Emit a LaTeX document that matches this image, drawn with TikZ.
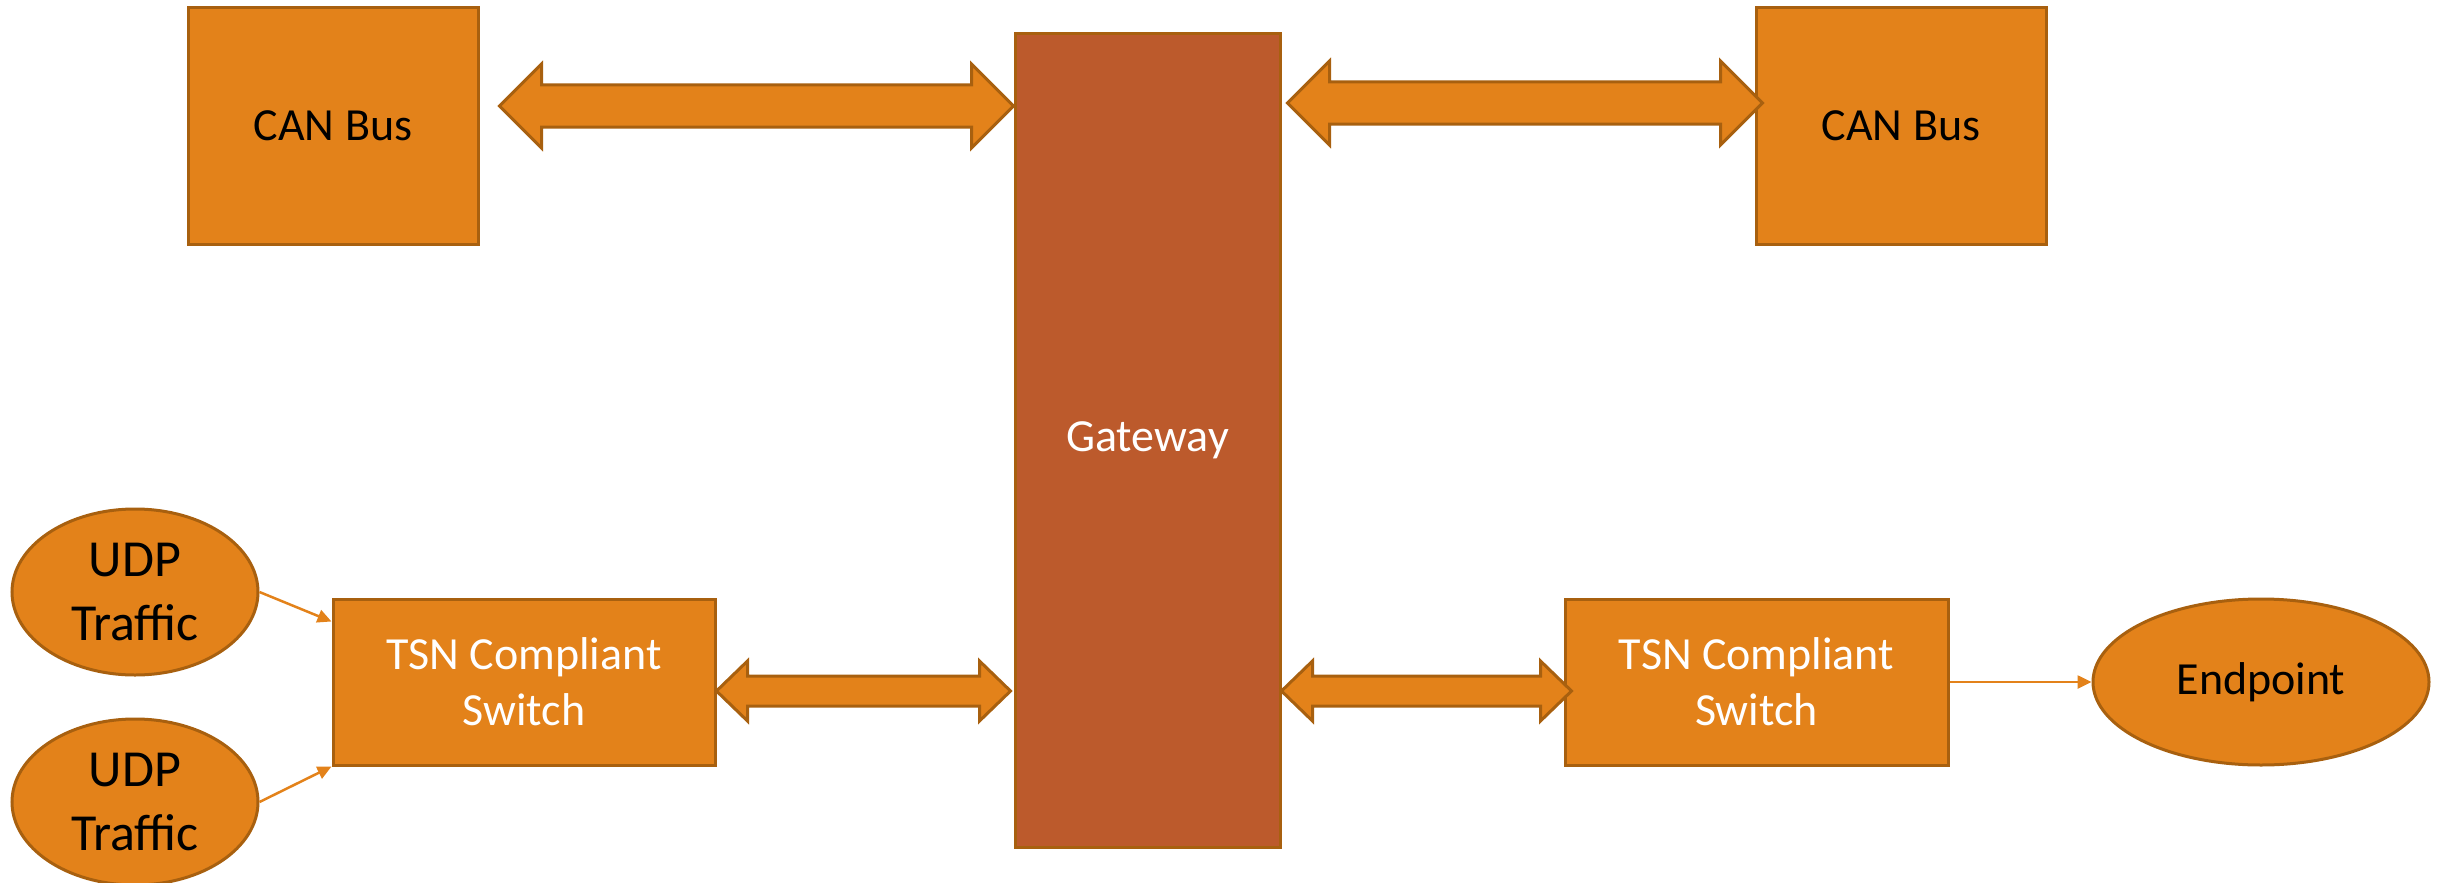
\documentclass[tikz,border=0pt]{standalone}
\usepackage{fontspec}
\setmainfont{Carlito}
\usepackage{tikz}
\usetikzlibrary{arrows.meta,positioning,calc,shapes.geometric}
\definecolor{borange}{HTML}{E3821A}
\definecolor{bedge}{HTML}{A8600F}
\definecolor{brust}{HTML}{BC5A2C}
\newcommand{\blkfont}{\fontsize{46}{56}\selectfont}
\newcommand{\udpfont}{\fontsize{52}{64}\selectfont}
% block arrow with two heads: from, to, shaft half width, head half width, head length
\newcommand{\fatarrow}[5]{%
  \draw[fatarr] let \p1=(#1), \p2=(#2) in
    (\x1,\y1) -- (\x1+#5,\y1+#4) -- (\x1+#5,\y1+#3) -- (\x2-#5,\y1+#3)
    -- (\x2-#5,\y1+#4) -- (\x2,\y1) -- (\x2-#5,\y1-#4) -- (\x2-#5,\y1-#3)
    -- (\x1+#5,\y1-#3) -- (\x1+#5,\y1-#4) -- cycle;}
\tikzset{
  blk/.style={rectangle, draw=bedge, line width=3pt, fill=#1, align=center,
              inner sep=0pt, font=\blkfont},
  blk/.default=borange,
  blob/.style={ellipse, draw=bedge, line width=3pt, fill=borange, align=center,
               inner sep=-20pt, minimum height=166pt},
  fatarr/.style={draw=bedge, line width=3pt, fill=borange, line join=miter},
  link/.style={-{Triangle[length=14pt,width=13pt]}, draw=borange, line width=2.5pt},
}
\begin{document}
\begin{tikzpicture}[x=1pt, y=-1pt]
  \useasboundingbox (0,0) rectangle (2442,883);
  % gateway in the middle, buses above, switches below
  \node[blk=brust, minimum width=265pt, minimum height=813pt, text=white] (gw) at (1147.5,440.5) {Gateway};
  \node[blk, minimum width=290pt, minimum height=236pt] (canL) at (333,126) {CAN Bus};
  \node[blk, minimum width=290pt, minimum height=236pt] (canR) at (1901,126) {CAN Bus};
  \node[blk, minimum width=382pt, minimum height=166pt, text=white] (tsnL) at (524,682) {TSN Compliant\\Switch};
  \node[blk, minimum width=383pt, minimum height=166pt, text=white] (tsnR) at (1756.5,682) {TSN Compliant\\Switch};
  \node[blob, minimum width=246pt, font=\udpfont] (udp1) at (135,592) {UDP\\Traffic};
  \node[blob, minimum width=246pt, font=\udpfont] (udp2) at (135,802) {UDP\\Traffic};
  \node[blob, minimum width=336pt, font=\blkfont] (endp) at (2261,682) {Endpoint};

  \coordinate (t1a) at ($(canL.east)+(20,-20)$);
  \coordinate (t1b) at (gw.west |- t1a);
  \coordinate (t2b) at ($(canR.west)+(8,-23)$);
  \coordinate (t2a) at ($(gw.east |- t2b)+(6,0)$);
  \coordinate (b1a) at ($(tsnL.east)+(0,9)$);
  \coordinate (b1b) at ($(gw.west |- b1a)+(-3,0)$);
  \coordinate (b2a) at (gw.east |- b1a);
  \coordinate (b2b) at ($(tsnR.west |- b1a)+(8,0)$);
  \fatarrow{t1a}{t1b}{21}{42}{42}
  \fatarrow{t2a}{t2b}{21}{42}{42}
  \fatarrow{b1a}{b1b}{15}{30}{31}
  \fatarrow{b2a}{b2b}{15}{30}{31}

  \draw[link] (udp1.east) -- ([yshift=-24pt]tsnL.north west);
  \draw[link] (udp2.east) -- (tsnL.south west);
  \draw[link] (tsnR.east) -- (endp.west);
\end{tikzpicture}
\end{document}
